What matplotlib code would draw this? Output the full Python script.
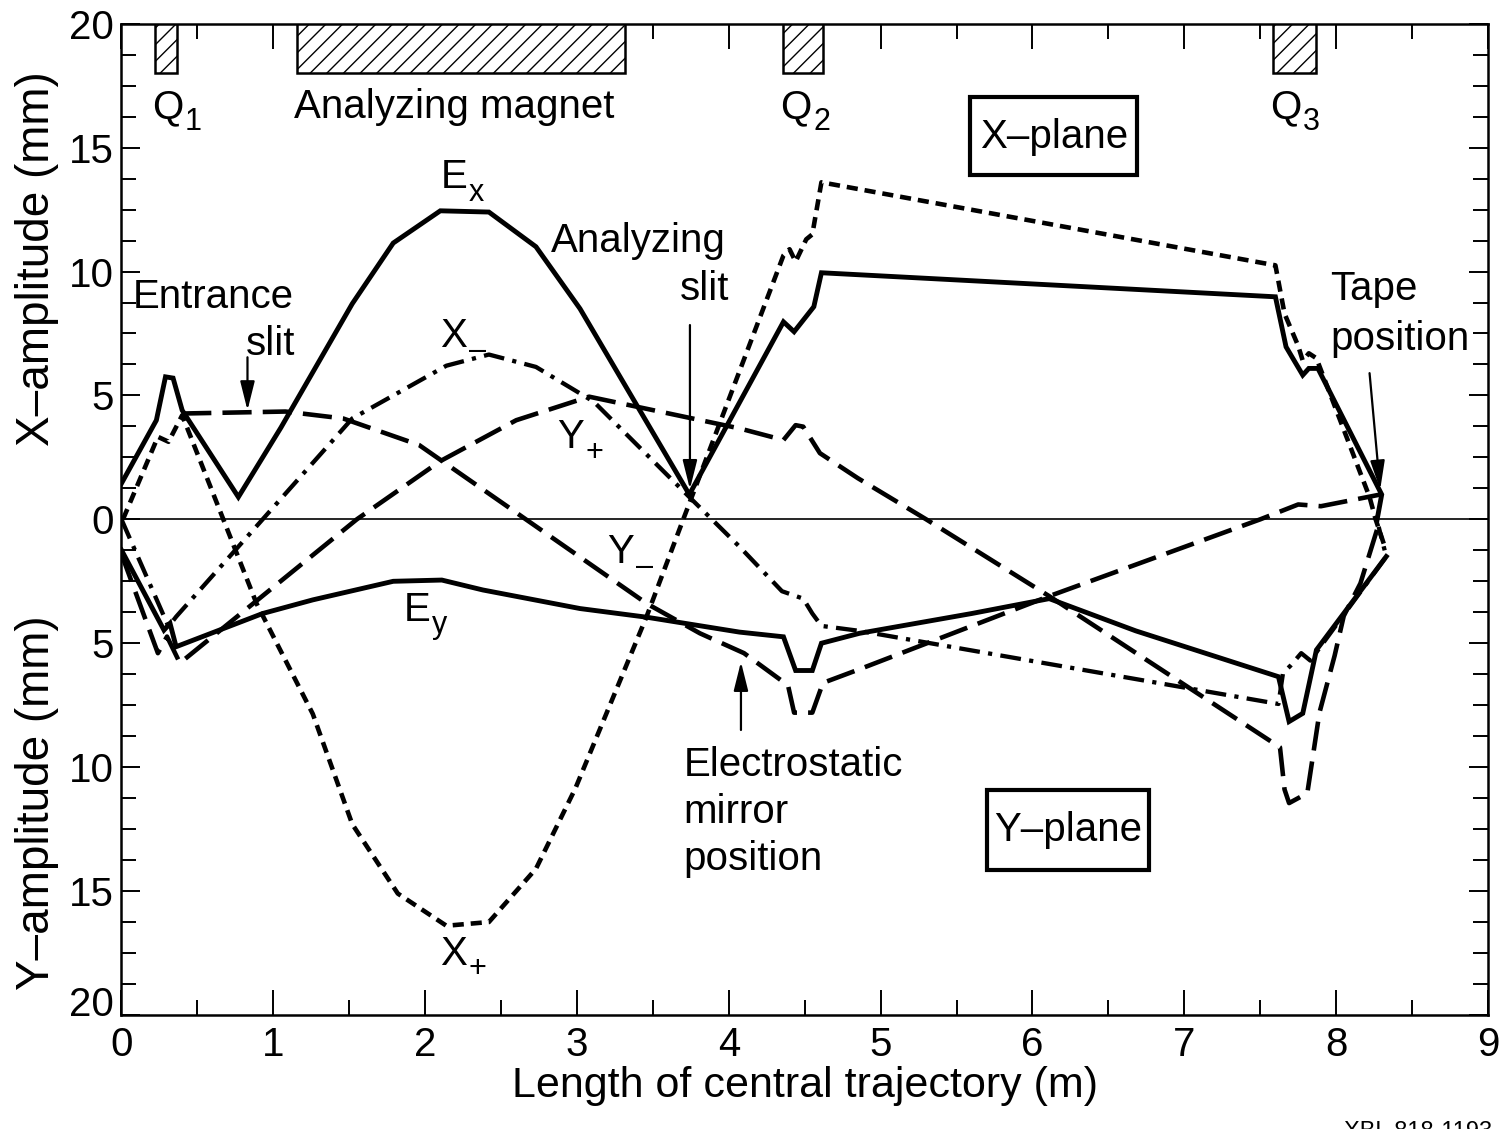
import matplotlib
matplotlib.use('Agg')
import matplotlib.pyplot as plt
from matplotlib.patches import Rectangle
from matplotlib.ticker import MultipleLocator, FuncFormatter

plt.rcParams['font.family'] = ['Liberation Sans', 'DejaVu Sans']
plt.rcParams['lines.scale_dashes'] = False
plt.rcParams['hatch.linewidth'] = 1.0

# length along central trajectory (m) vs amplitude (mm); Y-plane plotted below zero
ex_s = [0.00, 0.23, 0.29, 0.34, 0.40, 0.77, 1.05, 1.52, 1.79, 2.10, 2.42, 2.73, 3.02,
        3.74, 4.36, 4.43, 4.56, 4.61, 7.60, 7.67, 7.78, 7.82, 7.88, 8.30, 8.27]
ex_a = [1.45, 4.0, 5.75, 5.7, 4.4, 0.9, 3.7, 8.7, 11.15, 12.45, 12.4, 11.0, 8.5,
        1.0, 7.97, 7.57, 8.58, 9.95, 8.98, 6.96, 5.82, 6.09, 6.09, 1.0, 0.0]

xp_s = [0.01, 0.24, 0.31, 0.40, 0.89, 1.26, 1.52, 1.82, 2.14, 2.42, 2.73, 2.99, 3.46,
        3.70, 4.14, 4.36, 4.40, 4.44, 4.51, 4.55, 4.61, 7.60, 7.66, 7.75, 7.78, 7.82,
        7.87, 8.22, 8.26, 8.32]
xp_a = [0.0, 3.33, 3.13, 4.2, -3.4, -7.85, -12.3, -15.1, -16.4, -16.25, -14.1, -10.85, -3.9,
        0.0, 7.1, 10.65, 10.9, 10.4, 11.3, 11.5, 13.6, 10.25, 8.3, 7.0, 6.4, 6.7,
        6.5, 0.9, 0.0, -1.1]

xm_s = [0.00, 0.31, 0.36, 1.52, 2.14, 2.42, 2.73, 3.11, 3.74, 4.07, 4.35, 4.49, 4.55,
        4.61, 4.86, 7.62, 7.65, 7.70, 7.77, 7.83, 8.33, 8.28]
xm_a = [0.0, -4.33, -3.93, 4.07, 6.2, 6.65, 6.15, 4.75, 0.9, -1.1, -2.9, -3.2, -3.8,
        -4.3, -4.5, -7.45, -6.2, -5.9, -5.4, -5.7, -1.5, -0.3]

ey_s = [0.00, 0.28, 0.32, 0.36, 0.93, 1.26, 1.79, 2.11, 2.38, 3.02, 3.46, 4.07, 4.36,
        4.44, 4.55, 4.61, 4.86, 5.60, 6.11, 6.68, 7.62, 7.69, 7.78, 7.87, 8.33]
ey_a = [-1.24, -4.47, -4.2, -5.14, -3.8, -3.25, -2.5, -2.45, -2.85, -3.6, -3.95, -4.55, -4.74,
        -6.1, -6.1, -5.0, -4.6, -3.8, -3.2, -4.5, -6.35, -8.16, -7.83, -5.27, -1.5]

yp_s = [0.00, 0.24, 0.30, 0.385, 1.55, 2.10, 2.60, 3.08, 4.07, 4.36, 4.44, 4.49, 4.60,
        4.85, 5.30, 6.11, 7.63, 7.66, 7.69, 7.81, 7.89, 7.99, 8.05, 8.16, 8.27]
yp_a = [-1.4, -5.4, -4.73, -5.8, 0.0, 2.35, 4.0, 4.95, 3.67, 3.2, 3.8, 3.74, 2.67,
        1.66, 0.0, -3.1, -9.2, -10.9, -11.45, -11.05, -7.8, -5.5, -3.9, -2.58, -0.4]

ym_s = [0.40, 1.08, 1.46, 1.96, 2.64, 3.46, 3.81, 4.10, 4.39, 4.43, 4.55, 4.62, 4.86,
        6.11, 7.50, 7.75, 7.90, 8.29]
ym_a = [4.27, 4.35, 4.07, 3.0, 0.1, -3.4, -4.6, -5.4, -6.7, -7.8, -7.8, -6.6, -6.05,
        -3.1, 0.0, 0.6, 0.53, 1.0]

# beamline elements drawn along the top edge
magnet_names = [('Q', '1'), ('Analyzing magnet', ''), ('Q', '2'), ('Q', '3')]
magnet_start = [0.22, 1.156, 4.36, 7.585]
magnet_end = [0.366, 3.316, 4.62, 7.87]

# advance widths (em) of the letters that carry a subscript
ADV = {'E': 0.667, 'X': 0.667, 'Y': 0.667, 'Q': 0.778}
FS = 29

fig = plt.figure(figsize=(15.05, 11.29), dpi=100)
ax = fig.add_axes([0.0807, 0.101, 0.908, 0.878])


def sub_text(x, y, main, sub, fs=FS):
    ax.text(x, y, main, fontsize=fs, ha='left', va='baseline')
    if sub:
        ax.annotate(sub, xy=(x, y), xytext=(ADV[main] * fs + 1, -9),
                    textcoords='offset points', fontsize=22, ha='left', va='baseline')


ax.axhline(0, color='k', lw=1.2, zorder=1)

ax.plot(ex_s, ex_a, color='k', lw=3.5, solid_joinstyle='miter')
ax.plot(ey_s, ey_a, color='k', lw=3.5, solid_joinstyle='miter')
ax.plot(xp_s, xp_a, color='k', lw=3.3, linestyle=(0, (8, 5)))
ax.plot(xm_s, xm_a, color='k', lw=3.1, linestyle=(0, (15, 6, 3, 6)))
ax.plot(yp_s, yp_a, color='k', lw=3.3, linestyle=(0, (21, 8)))
ax.plot(ym_s, ym_a, color='k', lw=3.3, linestyle=(0, (21, 8)))

for (name, sub), s0, s1 in zip(magnet_names, magnet_start, magnet_end):
    ax.add_patch(Rectangle((s0, 18.0), s1 - s0, 2.0, facecolor='white',
                           edgecolor='k', hatch='//', lw=1.8, zorder=3))
    sub_text(s0 - 0.02, 16.2, name, sub)

ax.text(0.076, 8.53, 'Entrance', fontsize=FS)
ax.text(0.82, 6.63, 'slit', fontsize=FS)
ax.text(2.83, 10.78, 'Analyzing', fontsize=FS)
ax.text(3.68, 8.84, 'slit', fontsize=FS)
ax.text(7.96, 8.84, 'Tape', fontsize=FS)
ax.text(7.96, 6.82, 'position', fontsize=FS)
ax.text(3.70, -10.35, 'Electrostatic', fontsize=FS)
ax.text(3.70, -12.25, 'mirror', fontsize=FS)
ax.text(3.70, -14.15, 'position', fontsize=FS)

sub_text(2.10, 13.36, 'E', 'x')
sub_text(2.10, 6.97, 'X', '\u2013')
sub_text(2.87, 2.87, 'Y', '+')
sub_text(3.20, -1.76, 'Y', '\u2013')
sub_text(1.86, -4.10, 'E', 'y')
sub_text(2.10, -17.97, 'X', '+')

# plane boxes
ax.add_patch(Rectangle((5.59, 13.89), 1.10, 3.14, fill=False, lw=3.0, zorder=3))
ax.text(6.14, 15.42, 'X\u2013plane', fontsize=FS, ha='center', va='center')
ax.add_patch(Rectangle((5.70, -14.15), 1.07, 3.23, fill=False, lw=3.0, zorder=3))
ax.text(6.235, -12.53, 'Y\u2013plane', fontsize=FS, ha='center', va='center')

arrow = dict(arrowstyle='-|>,head_length=0.8,head_width=0.2', color='k', lw=1.6,
             mutation_scale=22, shrinkA=0, shrinkB=0)
ax.annotate('', xy=(0.83, 4.4), xytext=(0.83, 6.54), arrowprops=arrow)
ax.annotate('', xy=(3.744, 1.22), xytext=(3.744, 7.84), arrowprops=arrow)
ax.annotate('', xy=(8.29, 1.2), xytext=(8.22, 5.9), arrowprops=arrow)
ax.annotate('', xy=(4.08, -5.75), xytext=(4.08, -8.5), arrowprops=arrow)

ax.set_xlim(0, 9)
ax.set_ylim(-20, 20)
ax.xaxis.set_major_locator(MultipleLocator(1))
ax.xaxis.set_minor_locator(MultipleLocator(0.5))
ax.yaxis.set_major_locator(MultipleLocator(5))
ax.yaxis.set_minor_locator(MultipleLocator(1.25))
# bottom "20" is lifted to sit on the axis line, drawn separately below
ax.yaxis.set_major_formatter(FuncFormatter(lambda v, p: '' if v <= -20 else f'{abs(v):g}'))
ax.tick_params(which='both', direction='in', top=True, right=True, width=1.4)
ax.tick_params(axis='x', which='major', length=18, labelsize=29, pad=8)
ax.tick_params(axis='x', which='minor', length=11)
ax.tick_params(axis='y', which='major', length=14, labelsize=29, pad=5.5)
ax.tick_params(axis='y', which='minor', length=11)
for sp in ax.spines.values():
    sp.set_linewidth(1.8)

ax.annotate('20', xy=(0, -20), xycoords=('axes fraction', 'data'), xytext=(-5.5, -1),
            textcoords='offset points', fontsize=29, ha='right', va='baseline')

ax.text(0.5, -0.0716, 'Length of central trajectory (m)', transform=ax.transAxes,
        fontsize=31, ha='center', va='center')
ax.text(-0.062, 0.7635, 'X\u2013amplitude (mm)', transform=ax.transAxes,
        fontsize=33, rotation=90, ha='center', va='center')
ax.text(-0.062, 0.2138, 'Y\u2013amplitude (mm)', transform=ax.transAxes,
        fontsize=33, rotation=90, ha='center', va='center')

fig.text(0.893, 1 - 1121 / 1129, 'XBL 818-1193', fontsize=17, va='top', ha='left')

fig.savefig('out.png', dpi=100)
